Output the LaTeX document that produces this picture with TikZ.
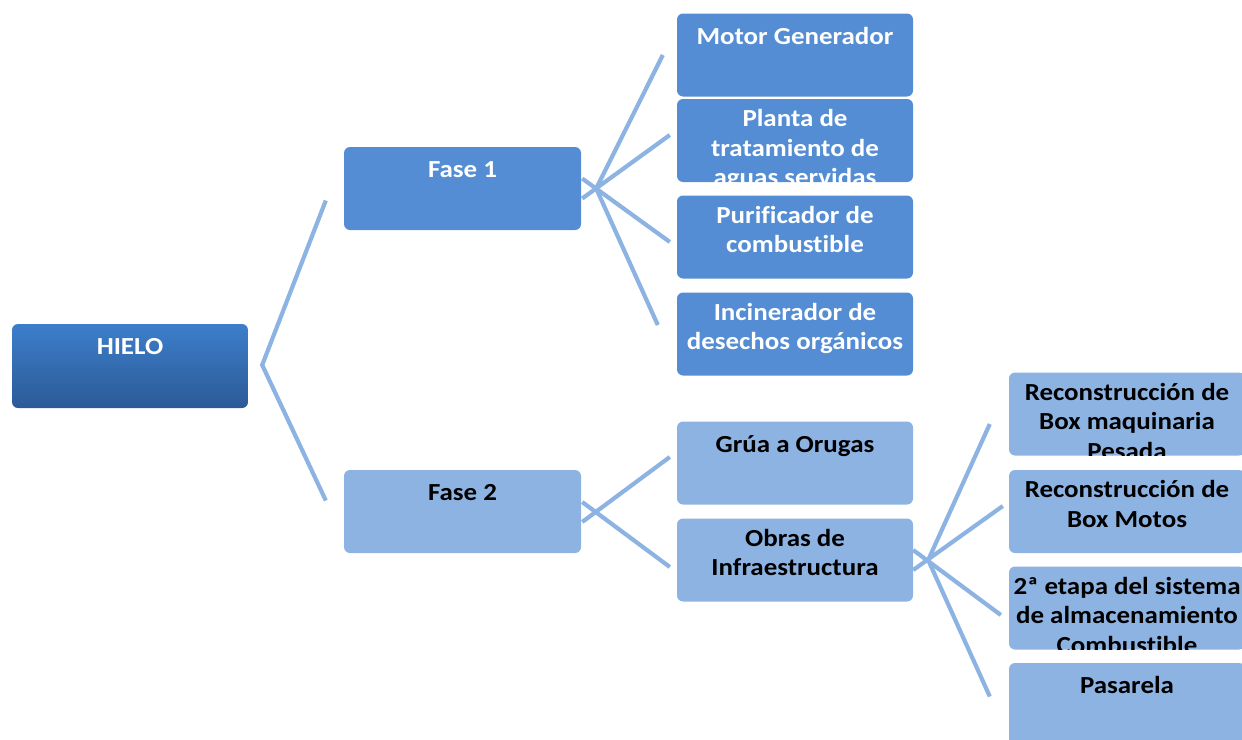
\documentclass[tikz,border=0pt]{standalone}
\usepackage{fontspec}
\setmainfont{Carlito}[FakeStretch=1.1,Ligatures=NoCommon]
\usetikzlibrary{calc}
\definecolor{darkbox}{RGB}{84,141,212}
\definecolor{lightbox}{RGB}{141,179,226}
\definecolor{linecol}{RGB}{141,179,226}
\definecolor{hieltop}{RGB}{60,126,203}
\definecolor{hielbot}{RGB}{44,90,150}
\newcommand\bxtxt[3]{%
  \begin{scope}
    \clip[rounded corners=6pt] (#1.south west) rectangle (#1.north east);
    \node[lbl,#2] at ([yshift=-10.5pt]#1.north) {#3};
  \end{scope}}
\begin{document}
\begin{tikzpicture}[x=1pt,y=-1pt,
  boxbase/.style={draw=none,rounded corners=6pt,minimum width=236pt,minimum height=83pt,inner sep=0pt},
  dark/.style={boxbase,fill=darkbox},
  light/.style={boxbase,fill=lightbox},
  lbl/.style={anchor=north,inner sep=0pt,align=center,font=\fontsize{24.5}{29.6}\selectfont\bfseries,
    execute at begin node={\rule{0pt}{20pt}}},
  wt/.style={text=white},
  bk/.style={text=black},
  conn/.style={draw=linecol,line width=4.2pt}]
\useasboundingbox (0,0) rectangle (1242,739);
% boxes
\node[boxbase,shade,top color=hieltop,bottom color=hielbot,minimum height=84pt] (hielo) at (130,366) {};
\node[dark,minimum width=237pt] (f1) at (462.5,188.5) {};
\node[light,minimum width=237pt] (f2) at (462.5,511.5) {};
\node[dark] (mg) at (795,55) {};
\node[dark] (pl) at (795,140.5) {};
\node[dark] (pu) at (795,237) {};
\node[dark] (in) at (795,334) {};
\node[light] (gr) at (795,463) {};
\node[light] (ob) at (795,560) {};
\node[light] (r1) at (1127,414) {};
\node[light] (r2) at (1127,511.5) {};
\node[light] (et) at (1127,608) {};
\node[light] (pa) at (1127,704.5) {};
% texts
\bxtxt{hielo}{wt}{HIELO}
\bxtxt{f1}{wt}{Fase 1}
\bxtxt{f2}{bk}{Fase 2}
\bxtxt{mg}{wt}{Motor Generador}
\bxtxt{pl}{wt}{Planta de\\tratamiento de\\aguas servidas}
\bxtxt{pu}{wt}{Purificador de\\combustible}
\bxtxt{in}{wt}{Incinerador de\\desechos orgánicos}
\bxtxt{gr}{bk}{Grúa a Orugas}
\bxtxt{ob}{bk}{Obras de\\Infraestructura}
\bxtxt{r1}{bk}{Reconstrucción de\\Box maquinaria\\Pesada}
\bxtxt{r2}{bk}{Reconstrucción de\\Box Motos}
\bxtxt{et}{bk}{2ª etapa del sistema\\de almacenamiento\\Combustible}
\bxtxt{pa}{bk}{Pasarela}
% connector coordinates
\coordinate (h0) at ($(hielo.east)+(14,-1)$);
\coordinate (f1in) at ($(f1.west)+(-18,12)$);
\coordinate (f2in) at ($(f2.west)+(-18,-11)$);
\coordinate (f1hub) at ($(f1.east)+(15,0)$);
\coordinate (f1a) at ($(f1.east)+(1,10)$);
\coordinate (f1b) at ($(f1.east)+(1,-10)$);
\coordinate (mgin) at ($(mg.west)+(-14,0)$);
\coordinate (plin) at ($(pl.west)+(-7,-5.5)$);
\coordinate (puin) at ($(pu.west)+(-7,5)$);
\coordinate (inin) at ($(in.west)+(-19,-9)$);
\coordinate (f2a) at ($(f2.east)+(1,10.5)$);
\coordinate (f2b) at ($(f2.east)+(1,-9.5)$);
\coordinate (grin) at ($(gr.west)+(-7,-6)$);
\coordinate (obin) at ($(ob.west)+(-7,7)$);
\coordinate (obhub) at ($(ob.east)+(15,0)$);
\coordinate (oba) at ($(ob.east)+(0,10)$);
\coordinate (obb) at ($(ob.east)+(0,-10)$);
\coordinate (r1in) at ($(r1.west)+(-19,10)$);
\coordinate (r2in) at ($(r2.west)+(-6,-5.5)$);
\coordinate (etin) at ($(et.west)+(-8,7)$);
\coordinate (pain) at ($(pa.west)+(-19,-8)$);
% connectors
\draw[conn] (f1in) -- (h0) -- (f2in);
\draw[conn] (f1a) -- (plin);
\draw[conn] (f1b) -- (puin);
\draw[conn] (f1hub) -- (mgin);
\draw[conn] (f1hub) -- (inin);
\draw[conn] (f2a) -- (grin);
\draw[conn] (f2b) -- (obin);
\draw[conn] (oba) -- (r2in);
\draw[conn] (obb) -- (etin);
\draw[conn] (obhub) -- (r1in);
\draw[conn] (obhub) -- (pain);
\end{tikzpicture}
\end{document}
